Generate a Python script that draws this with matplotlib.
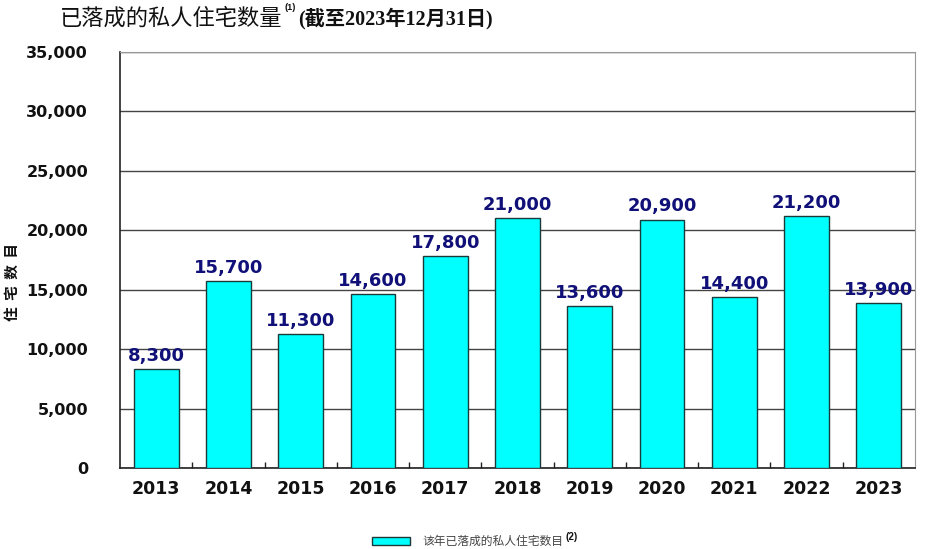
import matplotlib
matplotlib.use("Agg")
import matplotlib.pyplot as plt
from matplotlib.patches import Rectangle
from matplotlib.ticker import FuncFormatter, FixedLocator

years = ["2013", "2014", "2015", "2016", "2017", "2018", "2019", "2020", "2021", "2022", "2023"]
values = [8300, 15700, 11300, 14600, 17800, 21000, 13600, 20900, 14400, 21200, 13900]
yticks = [0, 5000, 10000, 15000, 20000, 25000, 30000, 35000]
title_main = "已落成的私人住宅数量"
title_note = "(1)"
title_sub = "(截至2023年12月31日)"
ylabel = "住  宅  数  目"
legend_label = "该年已落成的私人住宅数目"
legend_note = "(2)"

W, H = 929, 549
fig = plt.figure(figsize=(W / 100, H / 100), dpi=100)
ax = fig.add_axes([120 / W, (H - 468) / H, 795 / W, 416 / H])

x = list(range(len(years)))
ax.bar(x, values, width=0.62, color="#00FFFF", edgecolor="#1a3a3a", linewidth=1.0, zorder=3)
for xi, v in zip(x, values):
    ax.annotate(f"{v:,}", (xi, v), xytext=(0, 3), textcoords="offset points",
                ha="center", va="bottom", color="#101078", fontsize=13,
                fontweight="bold", family="DejaVu Sans", zorder=4)

ax.set_xlim(-0.5, len(years) - 0.5)
ax.set_ylim(0, 35000)
ax.set_yticks(yticks)
ax.yaxis.set_major_formatter(FuncFormatter(lambda v, p: f"{int(v):,}"))
ax.set_xticks(x)
ax.set_xticklabels(years)
ax.xaxis.set_minor_locator(FixedLocator([i + 0.5 for i in x[:-1]]))
ax.tick_params(axis="x", which="major", length=0, pad=9, labelsize=12.5)
ax.tick_params(axis="x", which="minor", length=4, direction="in", width=1, color="#222222")
ax.tick_params(axis="y", length=0, pad=23, labelsize=11.5)
for lab in ax.get_xticklabels() + ax.get_yticklabels():
    lab.set_fontweight("bold")
    lab.set_family("DejaVu Sans")
    lab.set_color("#111111")

ax.grid(axis="y", color="#444444", linewidth=1.0, zorder=0)
ax.set_axisbelow(True)
ax.spines["left"].set_color("#222222")
ax.spines["bottom"].set_color("#222222")
ax.spines["left"].set_linewidth(1.2)
ax.spines["bottom"].set_linewidth(1.2)
ax.spines["top"].set_color("#999999")
ax.spines["right"].set_color("#999999")

# y label
fig.text(12 / W, 1 - 282 / H, ylabel, rotation=90, ha="center", va="center",
         fontsize=10.5, fontweight="bold", family=["Noto Sans CJK SC", "DejaVu Sans"], color="#111111")

# title
fig.text(60 / W, 1 - 18 / H, title_main, ha="left", va="center", fontsize=16,
         family=["Noto Sans CJK SC", "DejaVu Sans"], color="#111111")
fig.text(285 / W, 1 - 7 / H, title_note, ha="left", va="center", fontsize=6.5,
         fontweight="bold", family="Liberation Sans", color="#111111")
fig.text(298 / W, 1 - 19 / H, title_sub, ha="left", va="center", fontsize=14.5,
         fontweight="bold", family=["Liberation Serif", "Noto Sans CJK SC"], color="#111111")

# legend
fig.patches.append(Rectangle((372 / W, 1 - 545 / H), 38 / W, 8 / H, transform=fig.transFigure,
                             facecolor="#00FFFF", edgecolor="#1a3a3a", linewidth=1.0))
fig.text(422 / W, 1 - 541 / H, legend_label, ha="left", va="center", fontsize=8.5,
         family=["Noto Sans CJK SC", "DejaVu Sans"], color="#444444")
fig.text(565 / W, 1 - 537 / H, legend_note, ha="left", va="center", fontsize=7,
         fontweight="bold", family="Liberation Sans", color="#111111")

fig.savefig("out.png", dpi=100)
